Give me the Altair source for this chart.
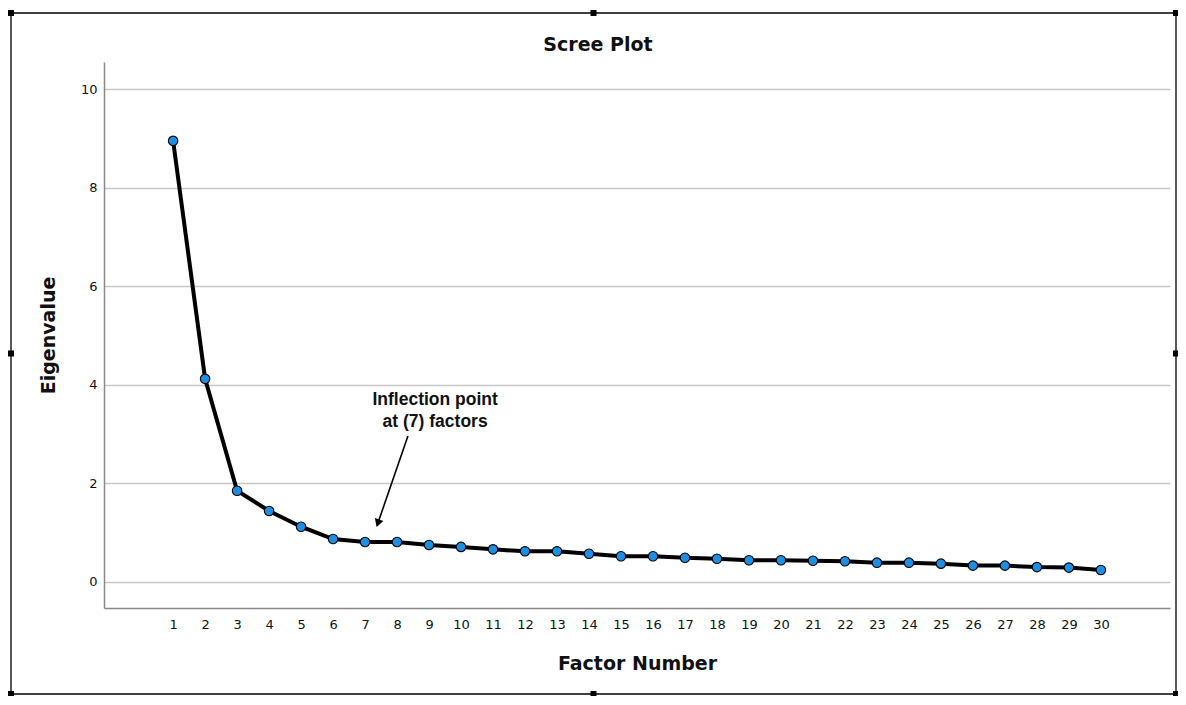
import altair as alt
import pandas as pd

# ---- data ----
factor = list(range(1, 31))
eigen = [8.95, 4.12, 1.85, 1.44, 1.12, 0.87, 0.81, 0.81, 0.75, 0.71,
         0.66, 0.62, 0.62, 0.57, 0.52, 0.52, 0.49, 0.47, 0.44, 0.44,
         0.43, 0.42, 0.39, 0.39, 0.37, 0.33, 0.33, 0.30, 0.29, 0.24]
x_ticks = list(range(1, 31))
y_ticks = [0, 2, 4, 6, 8, 10]
note_lines = ["Inflection point", "at (7) factors"]
note_x = [9.19, 9.19]
note_y = [3.69, 3.25]
arrow_x, arrow_y, arrow_x2, arrow_y2 = 8.34, 2.96, 7.40, 1.19

W, H = 1066, 546
PAD = {"left": 96, "top": 54, "right": 8, "bottom": 88}

df = pd.DataFrame({"Factor": factor, "Eigenvalue": eigen})
xs = alt.Scale(domain=[-1.16, 32.16], nice=False, zero=False)
ys = alt.Scale(domain=[-0.53, 10.55], nice=False, zero=False)

one = pd.DataFrame({"a": [0]})

# decorative outer frame with handles
FL, FR, FT, FB = -93, 1072, -49, 632
frame = alt.Chart(one).mark_rect(fill=None, stroke="black", strokeWidth=1.3, clip=False).encode(
    x=alt.value(FL), x2=alt.value(FR), y=alt.value(FT), y2=alt.value(FB)
)
mx, my = (FL + FR) / 2, (FT + FB) / 2
hx = [FL, mx, FR, FL, FR, FL, mx, FR]
hy = [FT, FT, FT, my, my, FB, FB, FB]
handles_df = pd.DataFrame({"hx": hx, "hy": hy})
handles = alt.Chart(handles_df).mark_square(size=36, color="black", opacity=1, clip=False).encode(
    x=alt.X("hx:Q", scale=None), y=alt.Y("hy:Q", scale=None)
)

title = alt.Chart(one).mark_text(
    text="Scree Plot", font="DejaVu Sans", fontWeight="bold", fontSize=19,
    color="#111", align="center", baseline="middle", clip=False
).encode(x=alt.value(494), y=alt.value(-17))

xaxis = alt.Axis(values=x_ticks, grid=False, ticks=False, domainColor="#8a8a8a",
                 domainWidth=1.5, labelFontSize=13, labelFont="DejaVu Sans",
                 labelColor="#111", labelPadding=10, labelOverlap=False,
                 title="Factor Number",
                 titleFont="DejaVu Sans", titleFontSize=19, titleFontWeight="bold",
                 titleColor="#111", titlePadding=23, labelFlush=False)
yaxis = alt.Axis(values=y_ticks, grid=True, gridColor="#c8c8c8", gridWidth=1.5,
                 ticks=False, domainColor="#8a8a8a", domainWidth=1.5,
                 labelFontSize=13, labelFont="DejaVu Sans", labelColor="#111",
                 labelPadding=7, title="Eigenvalue", titleFont="DejaVu Sans",
                 titleFontSize=19, titleFontWeight="bold", titleColor="#111",
                 titlePadding=22, labelFlush=False, labelOverlap=False)

base = alt.Chart(df)
line = base.mark_line(color="black", strokeWidth=4).encode(
    x=alt.X("Factor:Q", scale=xs, axis=xaxis),
    y=alt.Y("Eigenvalue:Q", scale=ys, axis=yaxis),
)
points = base.mark_point(filled=True, fill="#1a8fe6", stroke="black", strokeWidth=1.1,
                         size=90, opacity=1, shape="circle").encode(
    x=alt.X("Factor:Q", scale=xs, axis=xaxis), y=alt.Y("Eigenvalue:Q", scale=ys, axis=yaxis)
)

note_df = pd.DataFrame({"t": note_lines, "nx": note_x, "ny": note_y})
note = alt.Chart(note_df).mark_text(font="Liberation Sans", fontWeight="bold", fontSize=17.5,
                                    color="#111", align="center", baseline="middle").encode(
    x=alt.X("nx:Q", scale=xs, axis=xaxis), y=alt.Y("ny:Q", scale=ys, axis=yaxis), text="t:N"
)

arrow_df = pd.DataFrame({"ax": [arrow_x], "ay": [arrow_y], "ax2": [arrow_x2], "ay2": [arrow_y2]})
arrow = alt.Chart(arrow_df).mark_rule(color="black", strokeWidth=1.6).encode(
    x=alt.X("ax:Q", scale=xs, axis=xaxis), y=alt.Y("ay:Q", scale=ys, axis=yaxis),
    x2="ax2:Q", y2="ay2:Q"
)
head = alt.Chart(arrow_df).mark_point(shape="triangle-up", filled=True, color="black",
                                      size=80, angle=199, opacity=1).encode(
    x=alt.X("ax2:Q", scale=xs, axis=xaxis), y=alt.Y("ay2:Q", scale=ys, axis=yaxis)
)

chart = alt.layer(frame, handles, title, line, points, note, arrow, head).properties(
    width=W, height=H, padding=PAD, background="white",
    autosize=alt.AutoSizeParams(type="none"),
).configure_view(strokeWidth=0).configure_axisX(labelOverlap=False)

chart.save("out.html", embed_options={"renderer": "svg", "actions": False})
